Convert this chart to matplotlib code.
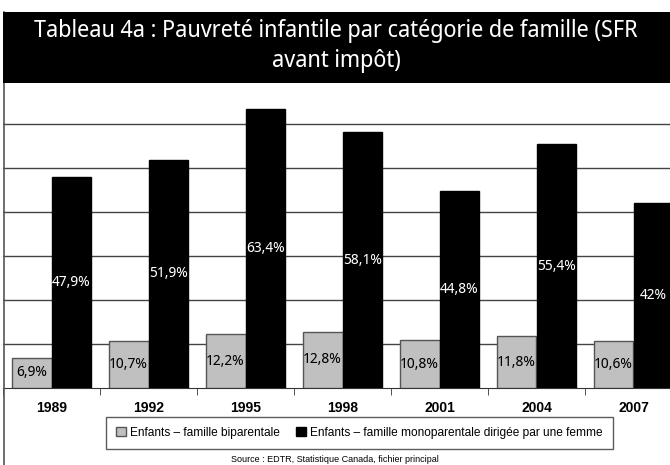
import matplotlib
matplotlib.use("Agg")
import matplotlib.pyplot as plt
from matplotlib.patches import Rectangle, Patch
from matplotlib.lines import Line2D
from matplotlib import font_manager

years = ["1989", "1992", "1995", "1998", "2001", "2004", "2007"]
biparentale = [6.9, 10.7, 12.2, 12.8, 10.8, 11.8, 10.6]
monoparentale = [47.9, 51.9, 63.4, 58.1, 44.8, 55.4, 42.0]
labels_bi = ["6,9%", "10,7%", "12,2%", "12,8%", "10,8%", "11,8%", "10,6%"]
labels_mono = ["47,9%", "51,9%", "63,4%", "58,1%", "44,8%", "55,4%", "42%"]
series_names = ["Enfants \u2013 famille biparentale",
                "Enfants \u2013 famille monoparentale dirigée par une femme"]
title = "Tableau 4a : Pauvreté infantile par catégorie de famille (SFR\navant impôt)"
source = "Source : EDTR, Statistique Canada, fichier principal"

names = {f.name for f in font_manager.fontManager.ttflist}
NARROW = "Noto Sans Display" if "Noto Sans Display" in names else "DejaVu Sans"
plt.rcParams['font.family'] = ['Liberation Sans', 'DejaVu Sans']

W, H = 670, 465
fig = plt.figure(figsize=(W / 100, H / 100), dpi=100)

# axes: x from 3 px to 682 px, y baseline at 388 px, top at 80 px
ax = fig.add_axes([3 / W, (H - 388) / H, 679 / W, 308 / H])
ax.set_xlim(-0.5, 6.5)
ax.set_ylim(0, 70)

w = 0.412
x = list(range(len(years)))
ax.bar([i - w / 2 for i in x], biparentale, width=w, color="#c0c0c0",
       edgecolor="#555555", linewidth=1, zorder=3)
ax.bar([i + w / 2 for i in x], monoparentale, width=w, color="black",
       edgecolor="black", linewidth=1, zorder=3)

for i in x:
    ax.text(i - w / 2, biparentale[i] / 2, labels_bi[i], ha="center", va="center",
            fontsize=10.5, family=NARROW, color="black", zorder=4)
    ax.text(i + w / 2, monoparentale[i] / 2, labels_mono[i], ha="center", va="center",
            fontsize=10.5, family=NARROW, color="white", zorder=4)

ax.set_yticks([10, 20, 30, 40, 50, 60])
ax.yaxis.grid(True, color="#444444", linewidth=1)
ax.set_axisbelow(True)
ax.tick_params(axis="y", left=False, labelleft=False)

ax.set_xticks(x)
ax.set_xticklabels(years, fontsize=10, fontweight="bold")
ax.tick_params(axis="x", length=0, pad=9)
ax.set_xticks([i - 0.5 for i in range(len(years) + 1)], minor=True)
ax.tick_params(axis="x", which="minor", length=5, direction="out", color="#333333")

for s in ["top", "right", "left"]:
    ax.spines[s].set_visible(False)
ax.spines["bottom"].set_color("#333333")

# title band
fig.patches.append(Rectangle((3 / W, (H - 83) / H), 667 / W, 71 / H,
                             transform=fig.transFigure, facecolor="black",
                             edgecolor="none", zorder=5))
fig.text(336 / W, (H - 46) / H, title, ha="center", va="center", color="white",
         fontsize=16.5, family=NARROW, linespacing=1.3, zorder=6)

# left frame line
fig.add_artist(Line2D([3.5 / W, 3.5 / W], [0, (H - 12) / H], color="#555555",
                      linewidth=1.2, transform=fig.transFigure))

handles = [Patch(facecolor="#c0c0c0", edgecolor="#555555"),
           Patch(facecolor="black", edgecolor="black")]
leg = fig.legend(handles, series_names, loc="center",
                 bbox_to_anchor=(359.5 / W, (H - 433) / H), ncol=2, fontsize=8.6,
                 frameon=True, fancybox=False, edgecolor="#333333",
                 handlelength=0.8, handleheight=0.8, handletextpad=0.35,
                 columnspacing=1.4, borderpad=0.85)
leg.get_frame().set_linewidth(1)

fig.text(335 / W, (H - 459) / H, source, ha="center", va="center", fontsize=6.5)

fig.savefig("out.png", dpi=100)
